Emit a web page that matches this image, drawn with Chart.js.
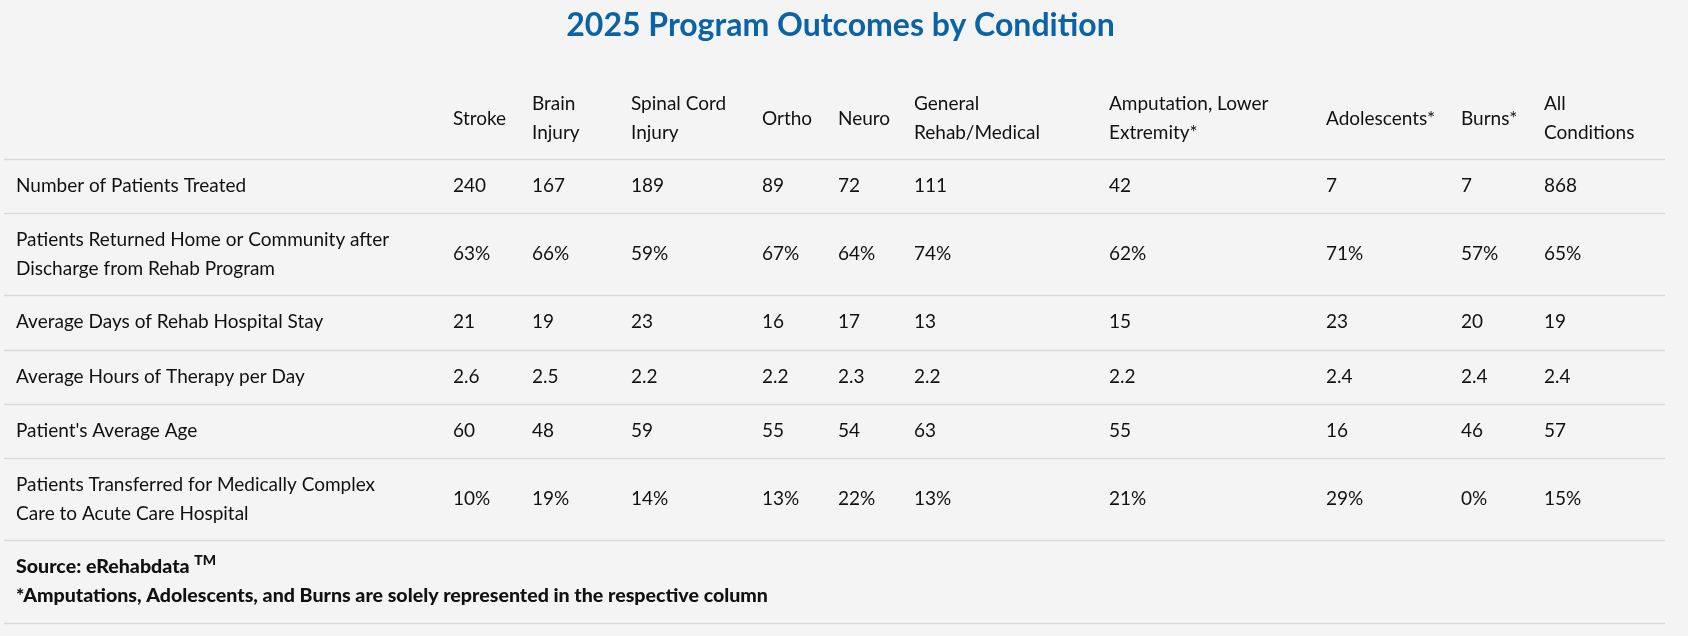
<!DOCTYPE html>
<html>
<head>
<meta charset="utf-8">
<title>2025 Program Outcomes by Condition</title>
<script src="https://cdn.jsdelivr.net/npm/chart.js@4.4.1/dist/chart.umd.min.js"></script>
<style>
  html, body { margin: 0; padding: 0; background: #f4f4f4; }
  #wrap { position: relative; width: 1688px; height: 636px; }
</style>
</head>
<body>
<div id="wrap"><canvas id="outcomes"></canvas></div>
<script>
// columns (line breaks as they wrap in the header)
const conditions = [
    'Stroke',
    'Brain\nInjury',
    'Spinal Cord\nInjury',
    'Ortho',
    'Neuro',
    'General\nRehab/Medical',
    'Amputation, Lower\nExtremity*',
    'Adolescents*',
    'Burns*',
    'All\nConditions'
];

// rows
const measures = [
    'Number of Patients Treated',
    'Patients Returned Home or Community after\nDischarge from Rehab Program',
    'Average Days of Rehab Hospital Stay',
    'Average Hours of Therapy per Day',
    "Patient's Average Age",
    'Patients Transferred for Medically Complex\nCare to Acute Care Hospital'
];

const patientsTreated = [240, 167, 189, 89, 72, 111, 42, 7, 7, 868];
const returnedHomePct = [63, 66, 59, 67, 64, 74, 62, 71, 57, 65];
const avgDaysStay = [21, 19, 23, 16, 17, 13, 15, 23, 20, 19];
const avgTherapyHours = [2.6, 2.5, 2.2, 2.2, 2.3, 2.2, 2.2, 2.4, 2.4, 2.4];
const avgAge = [60, 48, 59, 55, 54, 63, 55, 16, 46, 57];
const transferredPct = [10, 19, 14, 13, 22, 13, 21, 29, 0, 15];

const footnotes = [
    'Source: eRehabdata',
    '*Amputations, Adolescents, and Burns are solely represented in the respective column'
];

// layout / style
const FONT = "Lato, 'Noto Sans', sans-serif";
const TEXT = '#111111';
const RULE = '#d9d9d9';
const CELL_PAD = 12;
const columnWidths = [79, 99, 131, 76, 76, 195, 217, 135, 83, 133];
const rowHeights = [2, 3, 2, 2, 2, 3];
const FOOTER_HEIGHT = 83;

// category scale whose bands can have different widths, like table columns
class TableScale extends Chart.CategoryScale {
    static id = 'table';
    edges() {
        const n = this.getLabels().length;
        const w = this.options.weights || [];
        const sizes = Array.from({ length: n }, (_, i) => w[i] ?? 1);
        const total = sizes.reduce((a, b) => a + b, 0);
        const out = [0];
        sizes.forEach(s => out.push(out[out.length - 1] + s / total));
        return out;
    }
    getEdgePixel(i) {
        return this.getPixelForDecimal(this.edges()[i]);
    }
    getPixelForValue(value) {
        if (typeof value !== 'number') value = this.parse(value);
        if (value === null || isNaN(value)) return NaN;
        const e = this.edges();
        const i = Math.round(value);
        if (this.options.anchor === 'start') {
            return this.getPixelForDecimal(e[i]) + (this.options.inset || 0);
        }
        return this.getPixelForDecimal((e[i] + e[i + 1]) / 2);
    }
    getPixelForTick(index) {
        const t = this.ticks[index];
        return t ? this.getPixelForValue(t.value) : NaN;
    }
}
Chart.register(TableScale);

const rows = [
    { label: measures[0], values: patientsTreated, suffix: '', digits: 0 },
    { label: measures[1], values: returnedHomePct, suffix: '%', digits: 0 },
    { label: measures[2], values: avgDaysStay, suffix: '', digits: 0 },
    { label: measures[3], values: avgTherapyHours, suffix: '', digits: 1 },
    { label: measures[4], values: avgAge, suffix: '', digits: 0 },
    { label: measures[5], values: transferredPct, suffix: '%', digits: 0 }
];

const datasets = rows.map(r => ({
    label: r.label,
    data: r.values.map((v, i) => ({ x: conditions[i], y: r.label, v: v })),
    suffix: r.suffix,
    digits: r.digits,
    pointRadius: 0,
    pointHoverRadius: 0
}));

const rules = {
    id: 'rules',
    beforeDatasetsDraw(chart) {
        const { ctx, chartArea } = chart;
        const y = chart.scales.y;
        const left = y.left - CELL_PAD;
        const ys = [];
        for (let i = 0; i <= measures.length; i++) ys.push(y.getEdgePixel(i));
        ys.push(chartArea.bottom + FOOTER_HEIGHT);
        ctx.save();
        ctx.strokeStyle = RULE;
        ctx.lineWidth = 1.3;
        ys.forEach(p => {
            const py = Math.round(p) + 0.5;
            ctx.beginPath();
            ctx.moveTo(left, py);
            ctx.lineTo(chartArea.right, py);
            ctx.stroke();
        });
        ctx.restore();
    }
};

const cellText = {
    id: 'cellText',
    afterDatasetsDraw(chart) {
        const { ctx } = chart;
        ctx.save();
        ctx.font = '19px ' + FONT;
        ctx.fillStyle = TEXT;
        ctx.textAlign = 'left';
        ctx.textBaseline = 'middle';
        chart.data.datasets.forEach((ds, di) => {
            chart.getDatasetMeta(di).data.forEach((pt, i) => {
                const v = ds.data[i].v;
                ctx.fillText(v.toFixed(ds.digits) + ds.suffix, pt.x, pt.y);
            });
        });
        ctx.restore();
    }
};

const footer = {
    id: 'footer',
    afterDraw(chart) {
        const { ctx, chartArea } = chart;
        const x = chart.scales.y.left;
        const mid = chartArea.bottom + FOOTER_HEIGHT / 2;
        ctx.save();
        ctx.fillStyle = TEXT;
        ctx.textAlign = 'left';
        ctx.textBaseline = 'middle';
        ctx.font = '900 19.6px ' + FONT;
        ctx.fillText(footnotes[0], x, mid - 14.5);
        const w = ctx.measureText(footnotes[0] + ' ').width;
        ctx.fillText(footnotes[1], x, mid + 14.5);
        ctx.font = '900 14px ' + FONT;
        ctx.fillText('TM', x + w, mid - 21.5);
        ctx.restore();
    }
};

new Chart(
    document.getElementById('outcomes'),
    {
        type: 'scatter',
        data: { datasets: datasets },
        options: {
            responsive: true,
            maintainAspectRatio: false,
            animation: false,
            events: [],
            layout: {
                padding: { left: 16, right: 23, top: 0, bottom: 96 }
            },
            plugins: {
                legend: { display: false },
                tooltip: { enabled: false },
                title: {
                    display: true,
                    text: '2025 Program Outcomes by Condition',
                    color: '#0b63a6',
                    font: { family: FONT, size: 32, weight: 'bold', lineHeight: 1.2 },
                    padding: { top: 6, bottom: 0 }
                }
            },
            scales: {
                x: {
                    type: 'table',
                    position: 'top',
                    labels: conditions,
                    weights: columnWidths,
                    anchor: 'start',
                    inset: CELL_PAD,
                    grid: { display: false, drawTicks: false },
                    border: { display: false },
                    ticks: {
                        autoSkip: false,
                        maxRotation: 0,
                        minRotation: 0,
                        align: 'start',
                        crossAlign: 'center',
                        padding: 26,
                        color: TEXT,
                        font: { family: FONT, size: 19, lineHeight: '29px' },
                        callback: function (value) {
                            return this.getLabelForValue(value).split('\n');
                        }
                    },
                    afterFit(scale) { scale.height = 114.6; }
                },
                y: {
                    type: 'table',
                    position: 'left',
                    labels: measures,
                    weights: rowHeights,
                    grid: { display: false, drawTicks: false },
                    border: { display: false },
                    ticks: {
                        autoSkip: false,
                        crossAlign: 'far',
                        padding: 0,
                        color: TEXT,
                        font: { family: FONT, size: 19, lineHeight: '29px' },
                        callback: function (value) {
                            return this.getLabelForValue(value).split('\n');
                        }
                    },
                    afterFit(scale) { scale.width = 425; }
                }
            }
        },
        plugins: [rules, cellText, footer]
    }
);
</script>
</body>
</html>
